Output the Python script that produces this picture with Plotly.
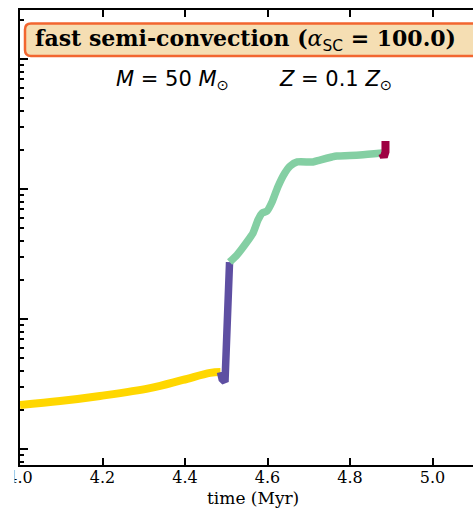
import plotly.graph_objects as go

# ---- data ----
t_ms = [4.000, 4.097, 4.194, 4.315, 4.395, 4.461, 4.486]
r_ms = [21.8, 23.4, 25.6, 29.4, 34.0, 38.5, 39.1]

t_hg = [4.486, 4.490, 4.497, 4.501, 4.504, 4.508]
r_hg = [39.1, 34.5, 32.8, 68.9, 140.0, 274.0]

t_he = [4.508, 4.526, 4.550, 4.565, 4.577, 4.587, 4.599, 4.611, 4.625, 4.642,
        4.655, 4.672, 4.710, 4.727, 4.756, 4.768, 4.824, 4.878]
r_he = [274, 311, 391, 459, 578, 653, 677, 794, 1036, 1327,
        1503, 1614, 1614, 1671, 1762, 1793, 1827, 1893]

t_end = [4.878, 4.882, 4.886, 4.886]
r_end = [1880, 1762, 1927, 2340]

x_ticks = [4.0, 4.2, 4.4, 4.6, 4.8, 5.0]
x_ticklabels = ["4.0", "4.2", "4.4", "4.6", "4.8", "5.0"]

title_text = ("<b>fast semi-convection (</b><i>α</i><sub><span style='font-family:DejaVu Sans'>SC</span></sub>"
              "<b> = 100.0)</b>")
mass_text = "<i>M</i> = 50 <i>M</i><sub>⊙</sub>"
metal_text = "<i>Z</i> = 0.1 <i>Z</i><sub>⊙</sub>"

# ---- layout geometry (pixels) ----
W, H = 473, 510
L, R, T, B = 20, 0, 10, 45
pw, ph = W - L - R, H - T - B


def px(x):
    return (x - L) / pw


def py(y):
    return (H - B - y) / ph


fig = go.Figure()
fig.add_trace(go.Scatter(x=t_ms, y=r_ms, mode="lines", line_shape="spline",
                         line=dict(color="#FFD700", width=8), showlegend=False))
fig.add_trace(go.Scatter(x=t_hg, y=r_hg, mode="lines",
                         line=dict(color="#5E4FA2", width=7.5), showlegend=False))
fig.add_trace(go.Scatter(x=t_he, y=r_he, mode="lines", line_shape="spline",
                         line=dict(color="#84CFA3", width=7.5, smoothing=0.6), showlegend=False))
fig.add_trace(go.Scatter(x=t_end, y=r_end, mode="lines",
                         line=dict(color="#9E0142", width=8), showlegend=False))

# rounded box for the title
x0, x1, y0, y1, rad = 25, 482, 23.5, 56, 6
rx, ry = rad / pw, rad / ph
X0, X1, Y0, Y1 = px(x0), px(x1), py(y1), py(y0)
path = (f"M {X0+rx},{Y0} L {X1-rx},{Y0} Q {X1},{Y0} {X1},{Y0+ry} "
        f"L {X1},{Y1-ry} Q {X1},{Y1} {X1-rx},{Y1} L {X0+rx},{Y1} "
        f"Q {X0},{Y1} {X0},{Y1-ry} L {X0},{Y0+ry} Q {X0},{Y0} {X0+rx},{Y0} Z")
fig.add_shape(type="path", path=path, xref="paper", yref="paper",
              fillcolor="#F5DEB3", line=dict(color="#F26630", width=2.5), layer="above")
# crop of the leftmost tick label as in the reference
fig.add_shape(type="rect", xref="paper", yref="paper", x0=px(-5), x1=px(14.5),
              y0=py(492), y1=py(467), fillcolor="white", line=dict(width=0), layer="above")

fig.add_annotation(text=title_text, xref="paper", yref="paper", x=px(33), y=py(40),
                   xanchor="left", yanchor="middle", showarrow=False,
                   font=dict(family="DejaVu Serif", size=22, color="black"))
fig.add_annotation(text=mass_text, xref="paper", yref="paper", x=px(172), y=py(80),
                   xanchor="center", yanchor="middle", showarrow=False,
                   font=dict(family="DejaVu Sans", size=21, color="black"))
fig.add_annotation(text=metal_text, xref="paper", yref="paper", x=px(335), y=py(80),
                   xanchor="center", yanchor="middle", showarrow=False,
                   font=dict(family="DejaVu Sans", size=21, color="black"))
fig.add_annotation(text="time (Myr)", xref="paper", yref="paper", x=px(253), y=py(498),
                   xanchor="center", yanchor="middle", showarrow=False,
                   font=dict(family="DejaVu Serif", size=17, color="black"))

fig.update_layout(
    width=W, height=H, margin=dict(l=L, r=R, t=T, b=B),
    paper_bgcolor="white", plot_bgcolor="white",
    xaxis=dict(range=[4.0, 4.0 + pw / 412.5], tickmode="array", tickvals=x_ticks,
               ticktext=x_ticklabels, ticks="inside", ticklen=7, tickwidth=2,
               tickcolor="black", showline=True, linecolor="black", linewidth=2,
               mirror="ticks", showgrid=False, zeroline=False, ticklabelstandoff=-3,
               tickfont=dict(family="DejaVu Serif", size=16, color="black")),
    yaxis=dict(type="log", range=[1 + (449 - 465) / 130, 1 + (449 - 10) / 130],
               dtick=1, ticks="inside", ticklen=8, tickwidth=2, tickcolor="black",
               showticklabels=False, showline=True, linecolor="black", linewidth=2,
               mirror=False, showgrid=False, zeroline=False,
               minor=dict(ticks="inside", ticklen=4, tickwidth=1.5, tickcolor="black",
                          dtick="D1", showgrid=False)),
)

fig.write_html("out.html")
